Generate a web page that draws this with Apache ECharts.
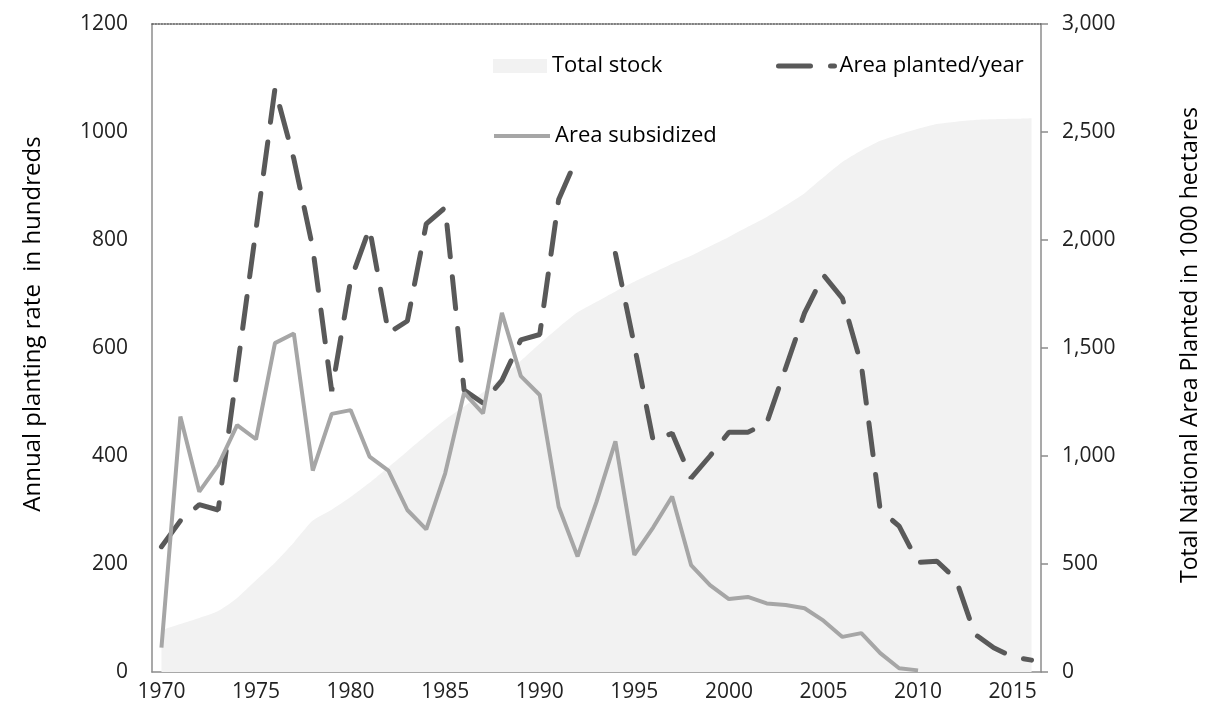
<!DOCTYPE html>
<html>
<head>
<meta charset="utf-8">
<script src="https://cdn.jsdelivr.net/npm/echarts@6/dist/echarts.min.js"></script>
<style>
html,body{margin:0;padding:0;background:#fff;}
#chart{width:1215px;height:709px;}
</style>
</head>
<body>
<div id="chart"></div>
<script>
var years = [];
for (var yr = 1970; yr <= 2016; yr++) { years.push(String(yr)); }

var leftTicks = [0, 200, 400, 600, 800, 1000, 1200];
var rightTicks = [0, 500, 1000, 1500, 2000, 2500, 3000];

// Total stock (1000 ha, right axis)
var totalStock = [194, 222, 250, 282, 343, 425, 506, 600, 701, 751,
  810, 876, 948, 1022, 1096, 1168, 1229, 1295, 1365, 1441,
  1520, 1595, 1665, 1714, 1762, 1807, 1848, 1890, 1927, 1971,
  2014, 2061, 2107, 2160, 2217, 2290, 2361, 2414, 2459, 2489,
  2515, 2537, 2548, 2556, 2559, 2561, 2564];

// Area planted per year (hundreds, left axis)
var areaPlanted = [232, 280, 310, 300, 560, 820, 1080, 950, 785, 520,
  725, 822, 628, 650, 830, 860, 522, 498, 540, 615,
  625, 875, 955, null, 775, 605, 428, 442, 359, 400,
  444, 444, 461, 563, 665, 735, 692, 569, 300, 270,
  203, 205, 172, 70, 45, 28, 22];

// Area subsidized (hundreds, left axis)
var areaSubsidized = [45, 473, 334, 383, 457, 431, 609, 627, 373, 478,
  485, 399, 373, 300, 264, 368, 517, 479, 665, 548,
  513, 306, 214, 315, 427, 217, 268, 325, 198, 161,
  135, 139, 127, 124, 118, 95, 65, 72, 35, 7,
  3, null, null, null, null, null, null];

var FONT = '"Open Sans", "DejaVu Sans", sans-serif';
var chart = echarts.init(document.getElementById('chart'));

function commas(v) { return String(v).replace(/\B(?=(\d{3})+(?!\d))/g, ','); }

var option = {
  animation: false,
  backgroundColor: '#ffffff',
  grid: { left: 152, right: 174, top: 24, bottom: 37, containLabel: false },
  legend: [
    {
      data: [{ name: 'Total stock', icon: 'rect' }],
      left: 493, top: 55, padding: 0, itemWidth: 54, itemHeight: 14, itemGap: 0,
      selectedMode: false,
      textStyle: { fontSize: 22, color: '#000', fontFamily: FONT }
    },
    {
      data: ['Area planted/year'],
      left: 776, top: 55, padding: 0, itemWidth: 56, itemHeight: 14,
      selectedMode: false,
      itemStyle: { opacity: 0 },
      lineStyle: { width: 5, type: [32, 20], cap: 'round' },
      textStyle: { fontSize: 22, color: '#000', fontFamily: FONT }
    },
    {
      data: ['Area subsidized'],
      left: 492, top: 125, padding: 0, itemWidth: 56, itemHeight: 14,
      selectedMode: false,
      itemStyle: { opacity: 0 },
      lineStyle: { width: 4 },
      textStyle: { fontSize: 22, color: '#000', fontFamily: FONT }
    }
  ],
  xAxis: [
    {
      type: 'category', data: years, boundaryGap: true,
      axisLine: { show: true, onZero: false, lineStyle: { color: '#8c8c8c', width: 1.5 } },
      axisTick: { show: false },
      axisLabel: { interval: 4, fontSize: 21, color: '#222', fontFamily: FONT, margin: 10 },
      splitLine: { show: false }
    },
    {
      type: 'category', data: years, boundaryGap: true, position: 'top',
      axisLine: { show: true, onZero: false, lineStyle: { color: '#555', width: 1.5, type: [1.5, 1.5] } },
      axisTick: { show: false }, axisLabel: { show: false }, splitLine: { show: false }
    }
  ],
  yAxis: [
    {
      type: 'value', min: 0, max: 1200, interval: 200, position: 'left',
      axisLine: { show: true, lineStyle: { color: '#8c8c8c', width: 1.5 } },
      axisTick: { show: false },
      axisLabel: { fontSize: 21, color: '#222', fontFamily: FONT, margin: 24,
        formatter: function (v) { return String(v); } },
      splitLine: { show: false }
    },
    {
      type: 'value', min: 0, max: 3000, interval: 500, position: 'right',
      axisLine: { show: true, lineStyle: { color: '#8c8c8c', width: 1.5 } },
      axisTick: { show: true, length: 7, lineStyle: { color: '#8c8c8c', width: 1.5 } },
      axisLabel: { fontSize: 21, color: '#222', fontFamily: FONT, margin: 21,
        formatter: function (v) { return commas(v); } },
      splitLine: { show: false }
    }
  ],
  series: [
    {
      name: 'Total stock', type: 'line', xAxisIndex: 0, yAxisIndex: 1,
      data: totalStock, symbol: 'none', smooth: 0.2,
      lineStyle: { width: 0, color: '#f2f2f2' },
      itemStyle: { color: '#f2f2f2' },
      areaStyle: { color: '#f2f2f2', opacity: 1 },
      z: 1
    },
    {
      name: 'Area planted/year', type: 'line', xAxisIndex: 0, yAxisIndex: 0,
      data: areaPlanted, symbol: 'none', connectNulls: false,
      lineStyle: { width: 5, color: '#595959', type: [32, 20], cap: 'round' },
      itemStyle: { color: '#595959' },
      z: 3
    },
    {
      name: 'Area subsidized', type: 'line', xAxisIndex: 0, yAxisIndex: 0,
      data: areaSubsidized, symbol: 'none', connectNulls: false,
      lineStyle: { width: 4, color: '#a6a6a6' },
      itemStyle: { color: '#a6a6a6' },
      z: 4
    },
    {
      name: 'top', type: 'line', xAxisIndex: 1, yAxisIndex: 0,
      data: [], symbol: 'none', silent: true
    }
  ],
  graphic: [
    {
      type: 'text', x: 33, y: 324, rotation: Math.PI / 2,
      style: { text: 'Annual planting rate  in hundreds', fontSize: 24, fontFamily: FONT,
        fill: '#000', align: 'center', verticalAlign: 'middle' }
    },
    {
      type: 'text', x: 1190, y: 345, rotation: Math.PI / 2,
      style: { text: 'Total National Area Planted in 1000 hectares', fontSize: 23, fontFamily: FONT,
        fill: '#000', align: 'center', verticalAlign: 'middle' }
    }
  ]
};
chart.setOption(option);
</script>
</body>
</html>
